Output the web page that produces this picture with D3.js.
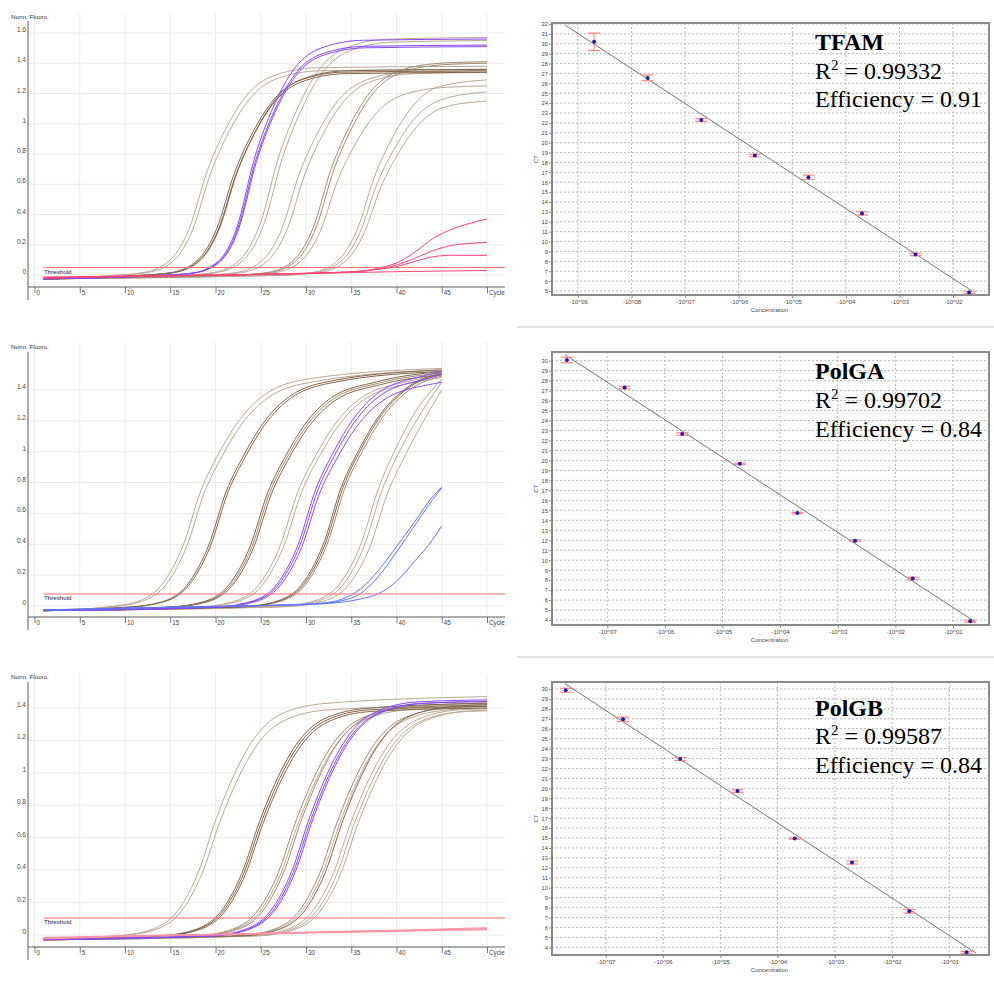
<!DOCTYPE html>
<html><head><meta charset="utf-8">
<script src="https://cdn.jsdelivr.net/npm/d3@7"></script>
<style>body{margin:0;background:#fff}svg{display:block}</style>
</head><body><svg id="c" width="994" height="983"></svg>
<script>
// ---------------- DATA ----------------
const cycleTicks = [0,5,10,15,20,25,30,35,40,45,50];
const cycleTickLabels = ["0","5","10","15","20","25","30","35","40","45","Cycle"];
const tfamFluoTicks = [0,0.2,0.4,0.6,0.8,1,1.2,1.4,1.6];
const polgaFluoTicks = [0,0.2,0.4,0.6,0.8,1,1.2,1.4];
const polgbFluoTicks = [0,0.2,0.4,0.6,0.8,1,1.2,1.4];
const tfamThreshold = 0.05;
const polgaThreshold = 0.078;
const polgbThreshold = 0.105;

const tfamCurves = [
 {grp:"light", pts:[[1,-0.025],[8.1,-0.005],[12.1,0.017],[15.1,0.105],[17.1,0.308],[19.1,0.69],[21.1,0.962],[23.1,1.161],[26.1,1.31],[31.1,1.37],[50,1.38]]},
 {grp:"light", pts:[[1,-0.03],[8.5,-0.005],[12.5,0.016],[15.5,0.103],[17.5,0.303],[19.5,0.68],[21.5,0.948],[23.5,1.144],[26.5,1.291],[31.5,1.35],[50,1.36]]},
 {grp:"dark", pts:[[1,-0.02],[11.1,-0.004],[15.1,0.016],[18.1,0.103],[20.1,0.301],[22.1,0.675],[24.1,0.941],[26.1,1.135],[29.1,1.281],[34.1,1.341],[50,1.35]]},
 {grp:"dark", pts:[[1,-0.025],[11.3,-0.004],[15.3,0.016],[18.3,0.102],[20.3,0.299],[22.3,0.67],[24.3,0.934],[26.3,1.127],[29.3,1.272],[34.3,1.331],[50,1.34]]},
 {grp:"dark", pts:[[1,-0.03],[11.4,-0.004],[15.4,0.016],[18.4,0.103],[20.4,0.303],[22.4,0.68],[24.4,0.948],[26.4,1.144],[29.4,1.291],[34.4,1.35],[50,1.36]]},
 {grp:"purple", pts:[[1,-0.025],[13.35,-0.004],[17.35,0.012],[20.35,0.094],[22.35,0.312],[24.35,0.78],[26.35,1.106],[28.35,1.334],[31.35,1.493],[36.35,1.552],[50,1.56]]},
 {grp:"purple", pts:[[1,-0.025],[13.45,-0.004],[17.45,0.012],[20.45,0.091],[22.45,0.304],[24.45,0.76],[26.45,1.078],[28.45,1.3],[31.45,1.455],[36.45,1.512],[50,1.52]]},
 {grp:"purple", pts:[[1,-0.025],[13.55,-0.004],[17.55,0.012],[20.55,0.091],[22.55,0.302],[24.55,0.755],[26.55,1.071],[28.55,1.291],[31.55,1.445],[36.55,1.502],[50,1.51]]},
 {grp:"light", pts:[[1,-0.02],[16,-0.003],[20,0.019],[23,0.119],[25,0.35],[27,0.785],[29,1.094],[31,1.32],[34,1.49],[39,1.559],[50,1.57]]},
 {grp:"light", pts:[[1,-0.025],[16.4,-0.003],[20.4,0.019],[23.4,0.118],[25.4,0.346],[27.4,0.775],[29.4,1.08],[31.4,1.304],[34.4,1.471],[39.4,1.539],[50,1.55]]},
 {grp:"light", pts:[[1,-0.02],[18.3,-0.002],[22.3,0.016],[25.3,0.103],[27.3,0.301],[29.3,0.675],[31.3,0.941],[33.3,1.135],[36.3,1.281],[41.3,1.341],[50,1.35]]},
 {grp:"light", pts:[[1,-0.025],[18.9,-0.002],[22.9,0.016],[25.9,0.102],[27.9,0.299],[29.9,0.67],[31.9,0.934],[33.9,1.127],[36.9,1.272],[41.9,1.331],[50,1.34]]},
 {grp:"mid", pts:[[1,-0.02],[21.8,-0.002],[25.8,0.017],[28.8,0.107],[30.8,0.314],[32.8,0.705],[34.8,0.983],[36.8,1.186],[39.8,1.338],[44.8,1.4],[50,1.41]]},
 {grp:"mid", pts:[[1,-0.025],[22.1,-0.002],[26.1,0.017],[29.1,0.106],[31.1,0.312],[33.1,0.7],[35.1,0.976],[37.1,1.177],[40.1,1.329],[45.1,1.39],[50,1.4]]},
 {grp:"light", pts:[[1,-0.02],[22.5,-0.002],[26.5,0.015],[29.5,0.095],[31.5,0.279],[33.5,0.625],[35.5,0.871],[37.5,1.051],[40.5,1.186],[45.5,1.241],[50,1.25]]},
 {grp:"light", pts:[[1,-0.02],[26.6,-0.002],[30.6,0.016],[33.6,0.1],[35.6,0.292],[37.6,0.655],[39.6,0.913],[41.6,1.102],[44.6,1.243],[50,1.29]]},
 {grp:"light", pts:[[1,-0.025],[26.9,-0.002],[30.9,0.015],[33.9,0.093],[35.9,0.272],[37.9,0.61],[39.9,0.85],[41.9,1.026],[44.9,1.158],[50,1.21]]},
 {grp:"light", pts:[[1,-0.02],[27.3,-0.002],[31.3,0.014],[34.3,0.089],[36.3,0.261],[38.3,0.585],[40.3,0.815],[42.3,0.984],[45.3,1.11],[50,1.15]]},
 {grp:"red", pts:[[1,-0.015],[10,-0.008],[20,0],[30,0.01],[36,0.025],[38,0.045],[40,0.08],[42,0.15],[44,0.24],[46,0.3],[48,0.34],[50,0.37]]},
 {grp:"red", pts:[[1,-0.02],[10,-0.01],[20,-0.002],[30,0.01],[36,0.025],[38,0.04],[40,0.066],[42,0.11],[44,0.16],[46,0.195],[48,0.208],[50,0.216]]},
 {grp:"red", pts:[[1,-0.02],[10,-0.01],[20,0],[30,0.012],[36,0.025],[38,0.038],[40,0.055],[42,0.09],[44,0.12],[46,0.13],[50,0.13]]},
 {grp:"red", pts:[[1,-0.015],[10,-0.008],[20,0],[30,0.01],[40,0.022],[50,0.03]]}
];

const polgaCurves = [
 {grp:"light", pts:[[1,-0.03],[7.4,-0.01],[11.4,0.03],[14.4,0.164],[16.4,0.389],[18.4,0.75],[20.4,0.992],[22.4,1.187],[25.4,1.368],[30.4,1.473],[45,1.54]]},
 {grp:"light", pts:[[1,-0.03],[7.8,-0.01],[11.8,0.029],[14.8,0.161],[16.8,0.383],[18.8,0.74],[20.8,0.978],[22.8,1.171],[25.8,1.35],[30.8,1.453],[45,1.53]]},
 {grp:"dark", pts:[[1,-0.03],[10.2,-0.008],[14.2,0.029],[17.2,0.162],[19.2,0.386],[21.2,0.745],[23.2,0.985],[25.2,1.179],[28.2,1.359],[33.2,1.463],[45,1.53]]},
 {grp:"dark", pts:[[1,-0.025],[10.4,-0.008],[14.4,0.029],[17.4,0.161],[19.4,0.383],[21.4,0.74],[23.4,0.978],[25.4,1.171],[28.4,1.35],[33.4,1.453],[45,1.52]]},
 {grp:"dark", pts:[[1,-0.03],[14.8,-0.007],[18.8,0.03],[21.8,0.161],[23.8,0.383],[25.8,0.74],[27.8,0.978],[29.8,1.171],[32.8,1.35],[37.8,1.453],[45,1.52]]},
 {grp:"mid", pts:[[1,-0.025],[15,-0.007],[19,0.03],[22,0.16],[24,0.381],[26,0.735],[28,0.972],[30,1.163],[33,1.341],[38,1.444],[45,1.51]]},
 {grp:"dark", pts:[[1,-0.03],[15.2,-0.007],[19.2,0.029],[22.2,0.159],[24.2,0.378],[26.2,0.73],[28.2,0.965],[30.2,1.155],[33.2,1.332],[38.2,1.434],[45,1.5]]},
 {grp:"light", pts:[[1,-0.03],[18.1,-0.006],[22.1,0.031],[25.1,0.161],[27.1,0.383],[29.1,0.74],[31.1,0.978],[33.1,1.171],[36.1,1.35],[41.1,1.453],[45,1.5]]},
 {grp:"light", pts:[[1,-0.025],[18.5,-0.006],[22.5,0.031],[25.5,0.16],[27.5,0.381],[29.5,0.735],[31.5,0.972],[33.5,1.163],[36.5,1.341],[41.5,1.444],[45,1.48]]},
 {grp:"purple", pts:[[1,-0.03],[20.1,-0.006],[24.1,0.032],[27.1,0.166],[29.1,0.394],[31.1,0.76],[33.1,1.005],[35.1,1.202],[38.1,1.386],[43.1,1.493],[45,1.52]]},
 {grp:"purple", pts:[[1,-0.03],[20.3,-0.006],[24.3,0.032],[27.3,0.164],[29.3,0.389],[31.3,0.75],[33.3,0.992],[35.3,1.187],[38.3,1.368],[43.3,1.473],[45,1.5]]},
 {grp:"purple", pts:[[1,-0.03],[20.5,-0.006],[24.5,0.03],[27.5,0.159],[29.5,0.378],[31.5,0.73],[33.5,0.965],[35.5,1.155],[38.5,1.332],[43.5,1.434],[45,1.45]]},
 {grp:"dark", pts:[[1,-0.03],[22.9,-0.005],[26.9,0.034],[29.9,0.168],[31.9,0.399],[33.9,0.77],[35.9,1.018],[37.9,1.218],[40.9,1.404],[45,1.51]]},
 {grp:"dark", pts:[[1,-0.025],[23.1,-0.005],[27.1,0.034],[30.1,0.168],[32.1,0.399],[34.1,0.77],[36.1,1.018],[38.1,1.218],[41.1,1.404],[45,1.5]]},
 {grp:"mid", pts:[[1,-0.03],[23.3,-0.005],[27.3,0.033],[30.3,0.167],[32.3,0.396],[34.3,0.765],[36.3,1.011],[38.3,1.21],[41.3,1.395],[45,1.49]]},
 {grp:"light", pts:[[1,-0.03],[27,-0.004],[31,0.035],[34,0.165],[36,0.39],[38,0.76],[40,1.03],[42,1.25],[45,1.47]]},
 {grp:"light", pts:[[1,-0.025],[27.4,-0.004],[31.4,0.034],[34.4,0.162],[36.4,0.385],[38.4,0.75],[40.4,1.01],[42.4,1.22],[45,1.45]]},
 {grp:"light", pts:[[1,-0.03],[28,-0.004],[32,0.033],[35,0.158],[37,0.375],[39,0.73],[41,0.98],[43,1.2],[45,1.4]]},
 {grp:"blue", pts:[[1,-0.03],[10,-0.015],[20,-0.003],[28,0.008],[32,0.02],[34,0.045],[36,0.11],[38,0.23],[40,0.385],[42,0.545],[44,0.71],[45,0.77]]},
 {grp:"blue", pts:[[1,-0.025],[10,-0.013],[20,-0.003],[28,0.007],[32,0.018],[34,0.035],[36,0.08],[38,0.19],[40,0.35],[42,0.52],[44,0.69],[45,0.765]]},
 {grp:"blue", pts:[[1,-0.03],[10,-0.015],[20,-0.004],[28,0.006],[32,0.015],[34,0.025],[36,0.045],[38,0.08],[40,0.16],[42,0.29],[44,0.43],[45,0.52]]}
];

const polgbCurves = [
 {grp:"light", pts:[[1,-0.025],[9.1,-0.005],[13.1,0.037],[16.1,0.171],[18.1,0.387],[20.1,0.72],[22.1,0.994],[24.1,1.198],[27.1,1.358],[32.1,1.428],[50,1.47]]},
 {grp:"light", pts:[[1,-0.03],[9.5,-0.005],[13.5,0.036],[16.5,0.167],[18.5,0.377],[20.5,0.7],[22.5,0.966],[24.5,1.165],[27.5,1.32],[32.5,1.389],[50,1.42]]},
 {grp:"dark", pts:[[1,-0.025],[13.9,-0.005],[17.9,0.036],[20.9,0.168],[22.9,0.379],[24.9,0.705],[26.9,0.973],[28.9,1.173],[31.9,1.33],[36.9,1.399],[50,1.43]]},
 {grp:"dark", pts:[[1,-0.03],[14.1,-0.005],[18.1,0.036],[21.1,0.167],[23.1,0.377],[25.1,0.7],[27.1,0.966],[29.1,1.165],[32.1,1.32],[37.1,1.389],[50,1.41]]},
 {grp:"dark", pts:[[1,-0.025],[14.3,-0.005],[18.3,0.035],[21.3,0.165],[23.3,0.374],[25.3,0.695],[27.3,0.959],[29.3,1.156],[32.3,1.311],[37.3,1.379],[50,1.4]]},
 {grp:"mid", pts:[[1,-0.03],[17.9,-0.005],[21.9,0.036],[24.9,0.168],[26.9,0.379],[28.9,0.705],[30.9,0.973],[32.9,1.173],[35.9,1.33],[40.9,1.399],[50,1.42]]},
 {grp:"light", pts:[[1,-0.025],[18.2,-0.005],[22.2,0.036],[25.2,0.167],[27.2,0.377],[29.2,0.7],[31.2,0.966],[33.2,1.165],[36.2,1.32],[41.2,1.389],[50,1.41]]},
 {grp:"mid", pts:[[1,-0.03],[18.5,-0.005],[22.5,0.036],[25.5,0.169],[27.5,0.382],[29.5,0.71],[31.5,0.98],[33.5,1.181],[36.5,1.339],[41.5,1.409],[50,1.43]]},
 {grp:"purple", pts:[[1,-0.025],[19.4,-0.005],[23.4,0.037],[26.4,0.173],[28.4,0.39],[30.4,0.725],[32.4,1.001],[34.4,1.206],[37.4,1.367],[42.4,1.438],[50,1.45]]},
 {grp:"purple", pts:[[1,-0.03],[19.6,-0.005],[23.6,0.037],[26.6,0.171],[28.6,0.387],[30.6,0.72],[32.6,0.994],[34.6,1.198],[37.6,1.358],[42.6,1.428],[50,1.44]]},
 {grp:"purple", pts:[[1,-0.025],[19.8,-0.005],[23.8,0.037],[26.8,0.171],[28.8,0.387],[30.8,0.72],[32.8,0.994],[34.8,1.198],[37.8,1.358],[42.8,1.428],[50,1.44]]},
 {grp:"mid", pts:[[1,-0.025],[22.5,-0.005],[26.5,0.036],[29.5,0.168],[31.5,0.379],[33.5,0.705],[35.5,0.973],[37.5,1.173],[40.5,1.33],[45.5,1.399],[50,1.41]]},
 {grp:"light", pts:[[1,-0.03],[22.8,-0.005],[26.8,0.036],[29.8,0.167],[31.8,0.377],[33.8,0.7],[35.8,0.966],[37.8,1.165],[40.8,1.32],[45.8,1.389],[50,1.4]]},
 {grp:"dark", pts:[[1,-0.025],[23.1,-0.005],[27.1,0.036],[30.1,0.169],[32.1,0.382],[34.1,0.71],[36.1,0.98],[38.1,1.181],[41.1,1.339],[46.1,1.409],[50,1.42]]},
 {grp:"light", pts:[[1,-0.03],[24,-0.005],[28,0.036],[31,0.167],[33,0.377],[35,0.7],[37,0.966],[39,1.165],[42,1.32],[47,1.389],[50,1.395]]},
 {grp:"light", pts:[[1,-0.025],[24.4,-0.005],[28.4,0.035],[31.4,0.165],[33.4,0.374],[35.4,0.695],[37.4,0.959],[39.4,1.156],[42.4,1.311],[47.4,1.379],[50,1.385]]},
 {grp:"light", pts:[[1,-0.03],[24.8,-0.005],[28.8,0.035],[31.8,0.165],[33.8,0.374],[35.8,0.695],[37.8,0.959],[39.8,1.156],[42.8,1.311],[47.8,1.379],[50,1.383]]},
 {grp:"pink", pts:[[1,-0.02],[10,-0.008],[20,0.002],[30,0.015],[40,0.025],[50,0.04]]},
 {grp:"pink", pts:[[1,-0.015],[10,-0.005],[20,0.005],[30,0.018],[40,0.03],[50,0.045]]},
 {grp:"pink", pts:[[1,-0.025],[10,-0.01],[20,0],[30,0.012],[40,0.022],[50,0.035]]},
 {grp:"pink", pts:[[1,-0.02],[15,0],[25,0.008],[35,0.02],[45,0.03],[50,0.032]]}
];

const geneNames = ["TFAM","PolGA","PolGB"];
const rSquared = ["0.99332","0.99702","0.99587"];
const efficiency = ["0.91","0.84","0.84"];

const tfamConc = [2e-9,2e-8,2e-7,2e-6,2e-5,2e-4,2e-3,2e-2];
const tfamCt = [30.2,26.55,22.3,18.7,16.5,12.85,8.7,4.85];
const tfamSd = [0.88,0.28,0.14,0.13,0.22,0.17,0.12,0.12];
const tfamFitRange = [5.8e-10,2.45e-2];
const tfamConcDomain = [3.27e-10,4.7e-2];
const tfamCtDomain = [4.6,32.1];
const tfamConcTicks = [1e-9,1e-8,1e-7,1e-6,1e-5,1e-4,1e-3,1e-2];
const tfamConcLabels = ["-10^09","-10^08","-10^07","-10^06","-10^05","-10^04","-10^03","-10^02"];
const tfamCtTicks = d3.range(5,33);

const polgaConc = [2e-8,2e-7,2e-6,2e-5,2e-4,2e-3,2e-2,2e-1];
const polgaCt = [30.07,27.3,22.65,19.67,14.72,11.95,8.17,3.87];
const polgaSd = [0.28,0.13,0.13,0.07,0.07,0.08,0.12,0.1];
const polgaFitRange = [1.86e-8,0.25];
const polgaConcDomain = [1.1e-8,0.422];
const polgaCtDomain = [3.5,30.87];
const polgaConcTicks = [1e-7,1e-6,1e-5,1e-4,1e-3,1e-2,1e-1];
const polgaConcLabels = ["-10^07","-10^06","-10^05","-10^04","-10^03","-10^02","-10^01"];
const polgaCtTicks = d3.range(4,31);

const polgbConc = [2e-8,2e-7,2e-6,2e-5,2e-4,2e-3,2e-2,2e-1];
const polgbCt = [29.87,26.95,22.95,19.73,14.95,12.53,7.63,3.5];
const polgbSd = [0.2,0.22,0.15,0.13,0.07,0.15,0.18,0.1];
const polgbFitRange = [1.95e-8,0.295];
const polgbConcDomain = [1.15e-8,0.493];
const polgbCtDomain = [3.23,30.7];
const polgbConcTicks = [1e-7,1e-6,1e-5,1e-4,1e-3,1e-2,1e-1];
const polgbConcLabels = ["-10^07","-10^06","-10^05","-10^04","-10^03","-10^02","-10^01"];
const polgbCtTicks = d3.range(4,31);

// ---------------- STYLE / LAYOUT ----------------
const curveColor = {light:"#bba793", mid:"#a08a72", dark:"#80654b", purple:"#8649f5", blue:"#6272ff", red:"#ff4272", pink:"#ff90a6"};
const drawOrder = ["light","mid","dark","purple","blue","red","pink"];
const smallFont = "'Liberation Sans', Arial, sans-serif";
const svg = d3.select("#c");

const ampPanels = [
 {curves:tfamCurves, ticks:tfamFluoTicks, thr:tfamThreshold, top:1.6, zeroY:275, topY:33, axisY:287, axisTop:21, axisBottom:300, gridTop:13, off:0},
 {curves:polgaCurves, ticks:polgaFluoTicks, thr:polgaThreshold, top:1.4, zeroY:606, topY:390, axisY:617, axisTop:352, axisBottom:630, gridTop:343, off:330},
 {curves:polgbCurves, ticks:polgbFluoTicks, thr:polgbThreshold, top:1.4, zeroY:935, topY:708, axisY:947, axisTop:682, axisBottom:960, gridTop:673, off:660}
];

function drawAmp(p){
  const g = svg.append("g");
  const x = d3.scaleLinear().domain([0,50]).range([34.5,487]);
  const y = d3.scaleLinear().domain([0,p.top]).range([p.zeroY,p.topY]);
  g.selectAll("line.vg").data(cycleTicks).join("line").attr("class","vg")
    .attr("x1",d=>x(d)).attr("x2",d=>x(d)).attr("y1",p.gridTop).attr("y2",p.axisY)
    .attr("stroke","#ebebeb");
  g.selectAll("line.hg").data(p.ticks).join("line").attr("class","hg")
    .attr("x1",28).attr("x2",505).attr("y1",d=>y(d)).attr("y2",d=>y(d))
    .attr("stroke","#ebebeb");
  const xa = g.append("g").attr("transform",`translate(0,${p.axisY})`)
    .call(d3.axisBottom(x).tickValues(cycleTicks).tickFormat((d,i)=>cycleTickLabels[i]).tickSize(6));
  xa.select(".domain").remove();
  xa.selectAll(".tick line").attr("stroke","#777");
  xa.selectAll("text").attr("y",8).attr("dy",0).attr("x",1.5).attr("text-anchor","start")
    .attr("font-size",6.3).attr("font-family",smallFont).attr("fill","#444");
  const ya = g.append("g").attr("transform","translate(28,0)")
    .call(d3.axisLeft(y).tickValues(p.ticks).tickFormat(d3.format("~g")).tickSize(0));
  ya.select(".domain").remove();
  ya.selectAll("text").attr("x",-2).attr("y",-1.5).attr("dy",0)
    .attr("font-size",6.5).attr("font-family",smallFont).attr("fill","#444");
  g.append("line").attr("x1",28).attr("x2",28).attr("y1",p.axisTop).attr("y2",p.axisBottom).attr("stroke","#5a5a5a");
  g.append("line").attr("x1",28).attr("x2",505).attr("y1",p.axisY).attr("y2",p.axisY).attr("stroke","#5a5a5a");
  g.append("text").attr("x",11).attr("y",p.off+19).text("Norm. Fluoro.")
    .attr("font-size",6.2).attr("font-family",smallFont).attr("fill","#333");
  const line = d3.line().x(d=>x(d[0])).y(d=>y(d[1])).curve(d3.curveMonotoneX);
  const sorted = p.curves.slice().sort((a,b)=>drawOrder.indexOf(a.grp)-drawOrder.indexOf(b.grp));
  g.selectAll("path.amp").data(sorted).join("path").attr("class","amp")
    .attr("d",d=>line(d.pts)).attr("fill","none")
    .attr("stroke",d=>curveColor[d.grp]).attr("stroke-width",1);
  g.append("line").attr("x1",x(1)).attr("x2",505).attr("y1",y(p.thr)).attr("y2",y(p.thr))
    .attr("stroke","#ff6b6b").attr("stroke-width",1);
  g.append("text").attr("x",x(1)+0.5).attr("y",y(p.thr)+6.5).text("Threshold")
    .attr("font-size",6.2).attr("font-family",smallFont).attr("fill","#222");
}
ampPanels.forEach(drawAmp);

const stdPanels = [
 {i:0, conc:tfamConc, ct:tfamCt, sd:tfamSd, fitRange:tfamFitRange, xDom:tfamConcDomain, yDom:tfamCtDomain, xTicks:tfamConcTicks, xLabels:tfamConcLabels, yTicks:tfamCtTicks, top:23, bottom:295, textY:[50,79,107]},
 {i:1, conc:polgaConc, ct:polgaCt, sd:polgaSd, fitRange:polgaFitRange, xDom:polgaConcDomain, yDom:polgaCtDomain, xTicks:polgaConcTicks, xLabels:polgaConcLabels, yTicks:polgaCtTicks, top:352, bottom:625, textY:[379,408,437]},
 {i:2, conc:polgbConc, ct:polgbCt, sd:polgbSd, fitRange:polgbFitRange, xDom:polgbConcDomain, yDom:polgbCtDomain, xTicks:polgbConcTicks, xLabels:polgbConcLabels, yTicks:polgbCtTicks, top:682, bottom:955, textY:[716,744,773]}
];

function drawStd(p){
  const L = 552, R = 989;
  const g = svg.append("g");
  const x = d3.scaleLog().domain(p.xDom).range([L,R]);
  const y = d3.scaleLinear().domain(p.yDom).range([p.bottom,p.top]);
  g.selectAll("line.hg").data(p.yTicks).join("line").attr("class","hg")
    .attr("x1",L).attr("x2",R).attr("y1",d=>y(d)).attr("y2",d=>y(d))
    .attr("stroke","#b5b5b5").attr("stroke-dasharray","2,2");
  g.selectAll("line.vg").data(p.xTicks).join("line").attr("class","vg")
    .attr("x1",d=>x(d)).attr("x2",d=>x(d)).attr("y1",p.top).attr("y2",p.bottom)
    .attr("stroke","#b5b5b5").attr("stroke-dasharray","2,2");
  const ya = g.append("g").attr("transform",`translate(${L},0)`)
    .call(d3.axisLeft(y).tickValues(p.yTicks).tickFormat(d3.format("d")).tickSize(3).tickPadding(1));
  ya.select(".domain").remove();
  ya.selectAll(".tick line").attr("stroke","#888");
  ya.selectAll("text").attr("font-size",5.8).attr("font-family",smallFont).attr("fill","#444");
  const xa = g.append("g").attr("transform",`translate(0,${p.bottom})`)
    .call(d3.axisBottom(x).tickValues(p.xTicks).tickFormat((d,i)=>p.xLabels[i]).tickSize(3).tickPadding(2));
  xa.select(".domain").remove();
  xa.selectAll(".tick line").attr("stroke","#888");
  xa.selectAll("text").attr("font-size",6).attr("font-family",smallFont).attr("fill","#444");
  g.append("rect").attr("x",L).attr("y",p.top).attr("width",R-L).attr("height",p.bottom-p.top)
    .attr("fill","none").attr("stroke","#8a8a8a").attr("stroke-width",2);
  g.append("text").attr("x",(L+R)/2-1).attr("y",p.bottom+17).attr("text-anchor","middle").text("Concentration")
    .attr("font-size",6).attr("font-family",smallFont).attr("fill","#444");
  g.append("text").attr("transform",`translate(538,${(p.top+p.bottom)/2}) rotate(-90)`).attr("text-anchor","middle").text("CT")
    .attr("font-size",6).attr("font-family",smallFont).attr("fill","#444");
  const lx = p.conc.map(Math.log10), mx = d3.mean(lx), my = d3.mean(p.ct);
  let sxy = 0, sxx = 0;
  lx.forEach((v,k)=>{ sxy += (v-mx)*(p.ct[k]-my); sxx += (v-mx)*(v-mx); });
  const slope = sxy/sxx;
  const f = c => my + slope*(Math.log10(c)-mx);
  g.append("line").attr("x1",x(p.fitRange[0])).attr("y1",y(f(p.fitRange[0])))
    .attr("x2",x(p.fitRange[1])).attr("y2",y(f(p.fitRange[1])))
    .attr("stroke","#737373").attr("stroke-width",1);
  const pts = p.conc.map((c,k)=>({c, ct:p.ct[k], sd:p.sd[k]}));
  const eb = g.selectAll("g.eb").data(pts).join("g").attr("class","eb");
  eb.append("line").attr("x1",d=>x(d.c)).attr("x2",d=>x(d.c)).attr("y1",d=>y(d.ct+d.sd)).attr("y2",d=>y(d.ct-d.sd))
    .attr("stroke","#ff8c8c").attr("stroke-width",1.2);
  eb.append("line").attr("x1",d=>x(d.c)-6).attr("x2",d=>x(d.c)+6).attr("y1",d=>y(d.ct+d.sd)).attr("y2",d=>y(d.ct+d.sd))
    .attr("stroke","#ff8c8c").attr("stroke-width",1.3);
  eb.append("line").attr("x1",d=>x(d.c)-6).attr("x2",d=>x(d.c)+6).attr("y1",d=>y(d.ct-d.sd)).attr("y2",d=>y(d.ct-d.sd))
    .attr("stroke","#ff8c8c").attr("stroke-width",1.3);
  eb.append("circle").attr("cx",d=>x(d.c)).attr("cy",d=>y(d.ct)).attr("r",2)
    .attr("fill","#1a2599");
  const tf = "'Liberation Serif','Times New Roman',serif";
  g.append("text").attr("x",815).attr("y",p.textY[0]).text(geneNames[p.i])
    .attr("font-family",tf).attr("font-size",24).attr("font-weight","bold").attr("fill","#000");
  const t2 = g.append("text").attr("x",815).attr("y",p.textY[1]).attr("font-family",tf).attr("font-size",24).attr("fill","#000");
  t2.append("tspan").text("R");
  t2.append("tspan").attr("font-size",15).attr("dy",-9).text("2");
  t2.append("tspan").attr("dy",9).text(" = " + rSquared[p.i]);
  g.append("text").attr("x",815).attr("y",p.textY[2]).text("Efficiency = " + efficiency[p.i])
    .attr("font-family",tf).attr("font-size",24).attr("fill","#000");
}
stdPanels.forEach(drawStd);

[327,657].forEach(yy=>{
  svg.append("line").attr("x1",517).attr("x2",994).attr("y1",yy).attr("y2",yy)
    .attr("stroke","#d6d6d0").attr("stroke-width",1.5);
});
</script></body></html>
